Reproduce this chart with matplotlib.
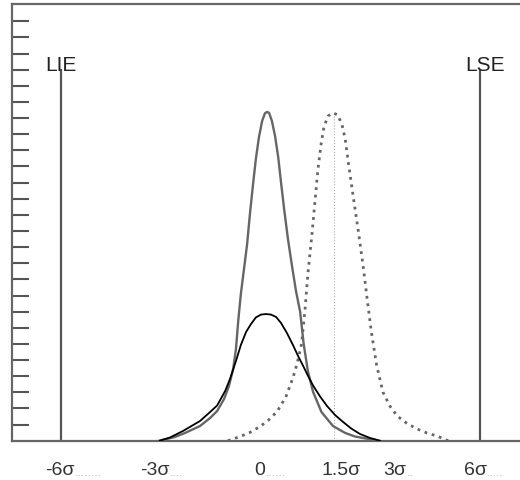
import matplotlib
matplotlib.use("Agg")
import matplotlib.pyplot as plt

plt.rcParams['font.family'] = ['Liberation Sans', 'DejaVu Sans']

# ---- data (x in sigma units, y in tick units) ----
narrow_x = [-3.17, -2.74, -2.45, -2.02, -1.73, -1.53, -1.33, -1.19, -1.07, -0.99,
            -0.92, -0.85, -0.76, -0.67, -0.59, -0.50, -0.42, -0.33, -0.24, -0.16,
            -0.10, -0.04, 0.04, 0.13, 0.22, 0.30, 0.39, 0.50, 0.62, 0.73,
            0.85, 0.95, 1.07, 1.22, 1.46, 1.79, 2.14, 2.42, 3.05]
narrow_y = [0.01, 0.23, 0.48, 0.91, 1.41, 1.84, 2.59, 3.39, 4.45, 5.69,
            7.54, 9.09, 10.64, 12.19, 14.05, 15.91, 17.46, 18.83, 19.82, 20.29,
            20.38, 20.32, 19.82, 18.89, 17.59, 16.04, 14.36, 12.50, 10.77, 9.28,
            7.98, 6.00, 4.32, 3.02, 1.78, 0.91, 0.48, 0.26, 0.01]

wide_x = [-3.17, -2.88, -2.51, -2.02, -1.73, -1.53, -1.30, -1.16, -0.99, -0.85,
          -0.70, -0.56, -0.42, -0.27, -0.13, 0.01, 0.16, 0.30, 0.47, 0.65,
          0.79, 0.93, 1.07, 1.22, 1.42, 1.62, 1.85, 2.08, 2.31, 2.56,
          2.85, 3.14]
wide_y = [0.0, 0.20, 0.60, 1.22, 1.78, 2.18, 3.08, 3.83, 4.94, 5.93,
          6.74, 7.23, 7.64, 7.82, 7.85, 7.82, 7.67, 7.30, 6.68, 5.90,
          5.25, 4.66, 4.04, 3.42, 2.74, 2.15, 1.59, 1.16, 0.76, 0.42,
          0.17, 0.0]

shifted_x = [-1.22, -0.87, -0.59, -0.30, -0.07, 0.19, 0.44, 0.65, 0.76, 0.89,
             0.99, 1.07, 1.18, 1.28, 1.36, 1.45, 1.53, 1.65, 1.79, 1.93,
             2.05, 2.14, 2.24, 2.38, 2.52, 2.65, 2.77, 2.89, 3.04, 3.22,
             3.42, 3.63, 3.91, 4.20, 4.48, 4.77, 5.09]
shifted_y = [0.0, 0.26, 0.51, 0.88, 1.25, 1.81, 2.71, 3.95, 4.76, 6.00,
             8.16, 10.33, 12.63, 14.98, 16.84, 18.39, 19.45, 20.13, 20.32, 20.19,
             19.57, 18.70, 17.09, 14.98, 12.94, 10.89, 8.78, 6.74, 4.69, 3.02,
             2.15, 1.53, 1.07, 0.73, 0.48, 0.29, 0.0]

shift_mean = 1.83
limits = [-6, 6]
limit_names = ['LIE', 'LSE']
limit_height = 23.0

tick_labels = ['-6σ', '-3σ', '0', '1.5σ', '3σ', '6σ']
tick_dots = ['........', '....', '......', '', '..', '.....']
label_pos = [-6.03, -3.31, -0.30, 2.03, 3.57, 5.87]

# ---- figure ----
fig = plt.figure(figsize=(5.2, 4.81), dpi=100)
ax = fig.add_axes([12 / 520, 39.3 / 481, 510 / 520, 436.7 / 481])

ax.plot(narrow_x, narrow_y, color='#666666', lw=1.7, zorder=3)
ax.plot(wide_x, wide_y, color='black', lw=1.3, zorder=4)
ax.plot(shifted_x, shifted_y, color='#666666', lw=2.0,
        linestyle=(0, (1, 1.7)), zorder=3)
ax.plot([shift_mean, shift_mean], [0, max(shifted_y)], color='#aaaaaa',
        lw=0.8, linestyle=':', zorder=2)

# ---- spec limits ----
for x, name, dx in zip(limits, limit_names, [0.0, 0.15]):
    ax.plot([x, x], [0, limit_height], color='#555555', lw=1.6, zorder=2)
    ax.text(x + dx, limit_height, name, ha='center', va='baseline',
            fontsize=15, color='#222222', zorder=5)

# ---- x labels ----
for x, lab, dots in zip(label_pos, tick_labels, tick_dots):
    t = ax.text(x, -0.065, lab, transform=ax.get_xaxis_transform(),
                ha='center', va='center', fontsize=14, color='#333333')
    if dots:
        ax.annotate(dots, xy=(1, 0), xycoords=t, xytext=(0, 0),
                    textcoords='offset points', ha='left', va='bottom',
                    fontsize=9, color='#bbbbbb')

ax.set_xlim(-7.407, 7.206)
ax.set_ylim(0, 27.07)
ax.set_xticks([])
ax.set_yticks(range(1, 27))
ax.set_yticklabels([])
ax.tick_params(axis='y', direction='in', length=12, width=1.5, color='#555555')

for side in ['left', 'top', 'bottom']:
    ax.spines[side].set_color('#666666')
    ax.spines[side].set_linewidth(1.6)
ax.spines['right'].set_visible(False)

fig.savefig('out.png', dpi=100)
